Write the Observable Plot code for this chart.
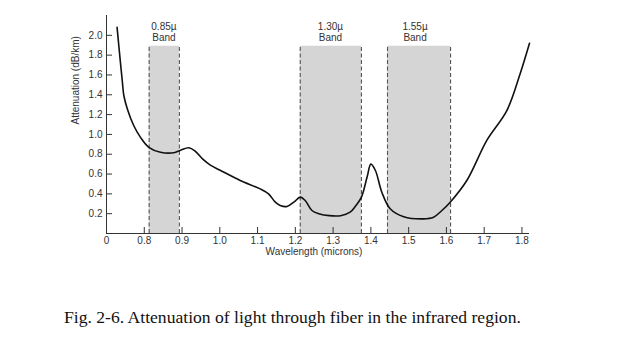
<!DOCTYPE html>
<html>
<head>
<meta charset="utf-8">
<script src="https://cdn.jsdelivr.net/npm/d3@7"></script>
<script src="https://cdn.jsdelivr.net/npm/@observablehq/plot@0.6"></script>
<style>
  body { margin: 0; background: #fff; width: 623px; height: 341px; overflow: hidden; position: relative; }
  #caption { position: absolute; left: 64px; top: 309px; font-family: "Liberation Serif", "DejaVu Serif", serif; font-size: 17.6px; line-height: 17px; color: #111; white-space: nowrap; }
</style>
</head>
<body>
<div id="chart"></div>
<div id="caption">Fig. 2-6. Attenuation of light through fiber in the infrared region.</div>
<script>
// Attenuation curve (wavelength in microns, attenuation in dB/km)
const wavelength = [0.728,0.735,0.742,0.746,0.755,0.772,0.790,0.812,0.843,0.878,0.896,0.918,0.935,0.955,0.975,1.002,1.054,1.107,1.129,1.147,1.160,1.178,1.196,1.213,1.226,1.244,1.262,1.290,1.320,1.345,1.360,1.375,1.390,1.400,1.412,1.429,1.451,1.487,1.539,1.566,1.588,1.610,1.654,1.707,1.760,1.795,1.820];
const attenuation = [2.08,1.80,1.53,1.39,1.26,1.09,0.97,0.87,0.82,0.815,0.84,0.865,0.83,0.75,0.69,0.636,0.535,0.45,0.40,0.316,0.283,0.273,0.316,0.367,0.333,0.232,0.20,0.18,0.18,0.215,0.28,0.367,0.57,0.70,0.636,0.417,0.25,0.17,0.148,0.165,0.232,0.316,0.535,0.94,1.24,1.61,1.92];

// Transmission bands
const bandNames = ["0.85\u00b5\nBand", "1.30\u00b5\nBand", "1.55\u00b5\nBand"];
const bandStart = [0.813, 1.213, 1.444];
const bandEnd = [0.893, 1.375, 1.611];
const bandTop = [1.89, 1.89, 1.89];
const bandLabelX = [0.852, 1.293, 1.517];

// Axis ticks
const xTicks = [0.7, 0.8, 0.9, 1.0, 1.1, 1.2, 1.3, 1.4, 1.5, 1.6, 1.7, 1.8];
const xTickLabels = ["0", "0.8", "0.9", "1.0", "1.1", "1.2", "1.3", "1.4", "1.5", "1.6", "1.7", "1.8"];
const yTicks = [0.2, 0.4, 0.6, 0.8, 1.0, 1.2, 1.4, 1.6, 1.8, 2.0];

const curve = wavelength.map((w, i) => ({w, a: attenuation[i]}));
const bands = bandNames.map((name, i) => ({name, x1: bandStart[i], x2: bandEnd[i], top: bandTop[i], lx: bandLabelX[i]}));
const bandEdges = bands.flatMap(b => [{x: b.x1, top: b.top}, {x: b.x2, top: b.top}]);

const ink = "#333";
const plot = Plot.plot({
  width: 623,
  height: 310,
  marginLeft: 106,
  marginRight: 94,
  marginTop: 15,
  marginBottom: 77,
  style: {fontFamily: "'Liberation Sans', Arial, sans-serif", fontSize: "10px", color: ink, background: "#fff"},
  x: {domain: [0.7, 1.82]},
  y: {domain: [0, 2.2]},
  marks: [
    Plot.rectY(bands, {x1: "x1", x2: "x2", y1: 0, y2: "top", fill: "#d5d5d5"}),
    Plot.ruleX(bandEdges, {x: "x", y1: 0, y2: "top", stroke: "#555", strokeWidth: 1.1, strokeDasharray: "4,2.5"}),
    Plot.text(bands, {x: "lx", y: "top", text: "name", lineAnchor: "bottom", dy: -5, lineHeight: 1.1, fontSize: 10, fill: ink}),
    Plot.line(curve, {x: "w", y: "a", curve: "catmull-rom", stroke: "#111", strokeWidth: 1.6}),
    Plot.ruleY([0], {stroke: ink, strokeWidth: 1}),
    Plot.ruleX([0.7], {stroke: ink, strokeWidth: 1}),
    Plot.axisX({ticks: xTicks, tickFormat: (d) => xTickLabels[xTicks.indexOf(d)], tickSize: -6, tickPadding: 9, label: null, stroke: ink, fill: ink, fontSize: 10}),
    Plot.axisY({ticks: yTicks, tickFormat: (d) => d.toFixed(1), tickSize: -6, tickPadding: 10, label: null, stroke: ink, fill: ink, fontSize: 10}),
    Plot.text(["Wavelength (microns)"], {frameAnchor: "bottom", dx: -4, dy: 21, fontSize: 10, fill: ink}),
    Plot.text(["Attenuation (dB/km)"], {frameAnchor: "left", dx: -31, rotate: -90, fontSize: 10, fill: ink})
  ]
});
document.getElementById("chart").appendChild(plot);
</script>
</body>
</html>
